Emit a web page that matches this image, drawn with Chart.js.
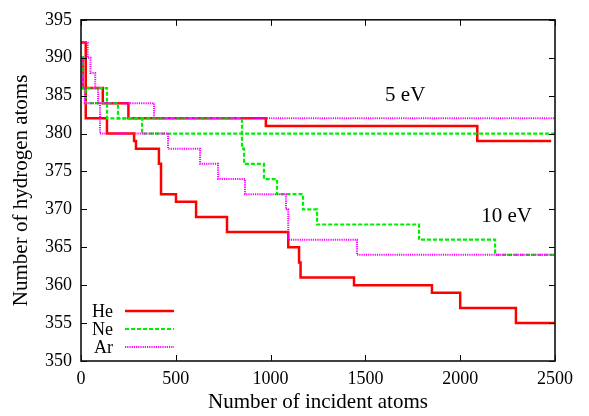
<!DOCTYPE html>
<html>
<head>
<meta charset="utf-8">
<script src="https://cdn.jsdelivr.net/npm/chart.js@4"></script>
<style>
  html, body { margin: 0; padding: 0; background: #fff; }
  #wrap { width: 589px; height: 416px; }
</style>
</head>
<body>
<div id="wrap"><canvas id="chart" width="589" height="416"></canvas></div>
<script>
// step data: x = impact number where the count changes, y = new count
const heX5 = [0, 10, 115, 250, 975, 2090, 2480];
const heY5 = [390, 386, 384, 382, 381, 379, 379];
const heX10 = [0, 25, 137, 280, 290, 411, 422, 501, 607, 770, 1093, 1150, 1158, 1440, 1851, 2000, 2294, 2500];
const heY10 = [392, 382, 380, 379, 378, 376, 372, 371, 369, 367, 365, 363, 361, 360, 359, 357, 355, 355];

const neX5 = [0, 10, 137, 322, 2500];
const neY5 = [390, 386, 382, 380, 380];
const neX10 = [0, 10, 25, 195, 849, 860, 965, 1034, 1171, 1245, 1783, 2184, 2500];
const neY10 = [390, 386, 384, 382, 378, 376, 374, 372, 370, 368, 366, 364, 364];

const arX5 = [0, 10, 20, 385, 2500];
const arY5 = [390, 386, 384, 382, 382];
const arX10 = [0, 35, 50, 75, 90, 100, 459, 628, 723, 865, 1081, 1093, 1456, 2500];
const arY10 = [392, 390, 388, 386, 384, 380, 378, 376, 374, 372, 370, 366, 364, 364];

const legendNames = ['He', 'Ne', 'Ar'];
const xTicks = [0, 500, 1000, 1500, 2000, 2500];
const yTicks = [350, 355, 360, 365, 370, 375, 380, 385, 390, 395];

const serif = "'Liberation Serif', 'DejaVu Serif', serif";

const styles = {
  He: { color: '#ff0000', width: 2.5, dash: [] },
  Ne: { color: '#00ee00', width: 2.2, dash: [4, 2] },
  Ar: { color: '#ff00ff', width: 2, dash: [1.2, 1] }
};

function pts(xs, ys) {
  return xs.map((x, i) => ({ x: x, y: ys[i] }));
}

function series(name, xs, ys, order) {
  const s = styles[name];
  return {
    label: name,
    data: pts(xs, ys),
    borderColor: s.color,
    borderWidth: s.width,
    borderDash: s.dash,
    stepped: true,
    pointRadius: 0,
    fill: false,
    order: order
  };
}

const notes = [
  { text: '5 eV', x: 1710, y: 385 },
  { text: '10 eV', x: 2245, y: 369.1 }
];

const framePlugin = {
  id: 'frame',
  afterDatasetsDraw(chart) {
    const { ctx, chartArea: a, scales } = chart;
    ctx.save();
    // inward ticks on all four sides
    ctx.strokeStyle = '#000';
    ctx.lineWidth = 1;
    ctx.beginPath();
    xTicks.forEach(v => {
      const px = Math.round(scales.x.getPixelForValue(v)) + 0.5;
      ctx.moveTo(px, a.bottom); ctx.lineTo(px, a.bottom - 6);
      ctx.moveTo(px, a.top); ctx.lineTo(px, a.top + 6);
    });
    yTicks.forEach(v => {
      const py = Math.round(scales.y.getPixelForValue(v)) + 0.5;
      ctx.moveTo(a.left, py); ctx.lineTo(a.left + 6, py);
      ctx.moveTo(a.right, py); ctx.lineTo(a.right - 6, py);
    });
    ctx.stroke();
    ctx.lineWidth = 1.6;
    ctx.strokeStyle = '#111';
    ctx.strokeRect(a.left, a.top, a.right - a.left, a.bottom - a.top);

    // annotations
    ctx.fillStyle = '#000';
    ctx.font = '21px ' + serif;
    ctx.textAlign = 'center';
    ctx.textBaseline = 'middle';
    notes.forEach(n => {
      ctx.fillText(n.text, scales.x.getPixelForValue(n.x), scales.y.getPixelForValue(n.y));
    });

    // legend
    ctx.font = '18px ' + serif;
    ctx.textAlign = 'right';
    legendNames.forEach((name, i) => {
      const s = styles[name];
      const y = 311 + i * 18;
      ctx.fillStyle = '#000';
      ctx.fillText(name, 113, y + 1);
      ctx.beginPath();
      ctx.strokeStyle = s.color;
      ctx.lineWidth = s.width;
      ctx.setLineDash(s.dash);
      ctx.moveTo(125, y);
      ctx.lineTo(174, y);
      ctx.stroke();
      ctx.setLineDash([]);
    });
    ctx.restore();
  }
};

new Chart(document.getElementById('chart'), {
  type: 'line',
  data: {
    datasets: [
      series('He', heX5, heY5, 3),
      series('He', heX10, heY10, 3),
      series('Ne', neX5, neY5, 2),
      series('Ne', neX10, neY10, 2),
      series('Ar', arX5, arY5, 1),
      series('Ar', arX10, arY10, 1)
    ]
  },
  options: {
    responsive: false,
    animation: false,
    layout: { padding: { left: 0, right: 34, top: 19, bottom: 0 } },
    plugins: { legend: { display: false }, tooltip: { enabled: false } },
    scales: {
      x: {
        type: 'linear',
        min: 0, max: 2500,
        afterBuildTicks: s => { s.ticks = xTicks.map(v => ({ value: v })); },
        afterFit: s => { s.height = 55; },
        grid: { display: false, drawTicks: false },
        border: { display: false },
        ticks: {
          padding: 7, color: '#000', font: { family: serif, size: 18 }, maxRotation: 0,
          callback: v => String(v)
        },
        title: {
          display: true, text: 'Number of incident atoms', color: '#000',
          font: { family: serif, size: 21, lineHeight: 1.2 }, padding: { top: 0, bottom: 1 }
        }
      },
      y: {
        min: 350, max: 395,
        afterBuildTicks: s => { s.ticks = yTicks.map(v => ({ value: v })); },
        afterFit: s => { s.width = 81; },
        grid: { display: false, drawTicks: false },
        border: { display: false },
        ticks: { padding: 9, color: '#000', font: { family: serif, size: 18 }, callback: v => String(v) },
        title: {
          display: true, text: 'Number of hydrogen atoms', color: '#000',
          font: { family: serif, size: 21, lineHeight: 1.2 }, padding: { top: 9, bottom: 0 }
        }
      }
    }
  },
  plugins: [framePlugin]
});
</script>
</body>
</html>
